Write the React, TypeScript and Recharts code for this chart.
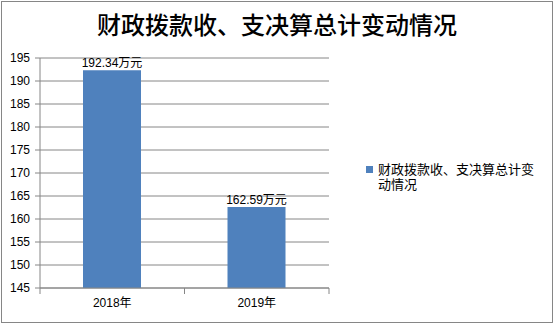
import React from 'react';
import { BarChart, Bar, XAxis, YAxis, CartesianGrid, Legend, LabelList } from 'recharts';

const categories = ['2018年', '2019年'];
const values = [192.34, 162.59];
const seriesName = '财政拨款收、支决算总计变动情况';
const yTicks = [145, 150, 155, 160, 165, 170, 175, 180, 185, 190, 195];

const data = categories.map((c, i) => ({ name: c, value: values[i] }));

const FONT = '"Liberation Sans", "Noto Sans CJK SC", sans-serif';
const GRAY = '#868686';
const BLUE = '#4F81BD';
const TICK_SIZE = 6;
const TICK_MARGIN = 4;

const LegendContent = (props: any) => {
  const item = (props.payload || [])[0];
  if (!item) return null;
  const v: string = String(item.value);
  return (
    <div style={{ display: 'flex', alignItems: 'flex-start', fontFamily: FONT, fontSize: 13, color: '#000', lineHeight: '15px' }}>
      <div style={{ width: 7, height: 7, background: item.color, marginTop: 4, marginRight: 5, flex: 'none' }} />
      <div>
        <div>{v.slice(0, 12)}</div>
        <div>{v.slice(12)}</div>
      </div>
    </div>
  );
};

const XTick = (props: any) => {
  const { x, y, payload } = props;
  const off = payload.offset || 0;
  const axisY = y - TICK_SIZE - TICK_MARGIN;
  const isLast = payload.value === categories[categories.length - 1];
  return (
    <g>
      <line x1={x - off} x2={x - off} y1={axisY} y2={axisY + TICK_SIZE} stroke={GRAY} />
      {isLast && <line x1={x + off} x2={x + off} y1={axisY} y2={axisY + TICK_SIZE} stroke={GRAY} />}
      <text x={x} y={y} dy="0.71em" textAnchor="middle" fill="#000" fontSize={12} fontFamily={FONT}>{payload.value}</text>
    </g>
  );
};

export default function App() {
  return (
    <div style={{ position: 'absolute', left: 0, top: 0, width: 554, height: 324, background: '#fff' }}>
      <div style={{ position: 'absolute', left: 1, top: 1, width: 552, height: 322, border: `1px solid ${GRAY}`, boxSizing: 'border-box' }} />
      <div style={{ position: 'absolute', left: 0, top: 9, width: 554, textAlign: 'center', fontFamily: '"Noto Sans CJK SC", sans-serif', fontSize: 24, fontWeight: 500, color: '#000', lineHeight: '30px' }}>
        {seriesName}
      </div>
      <div style={{ position: 'absolute', left: 0, top: 0 }}>
        <BarChart width={554} height={324} data={data} margin={{ top: 58, right: 225, left: 0, bottom: 0 }}>
          <CartesianGrid horizontal vertical={false} stroke={GRAY} strokeWidth={1} />
          <XAxis dataKey="name" tickLine={false} axisLine={{ stroke: GRAY }} tickSize={TICK_SIZE} tickMargin={TICK_MARGIN} height={36} tick={<XTick />} interval={0} />
          <YAxis domain={[145, 195]} ticks={yTicks} width={40} tickSize={5} tickMargin={5} axisLine={{ stroke: GRAY }} tickLine={{ stroke: GRAY }} tick={{ fill: '#000', fontSize: 12, fontFamily: FONT }} interval={0} />
          <Legend layout="horizontal" align="center" verticalAlign="middle" wrapperStyle={{ left: 366, top: 162, width: 180 }} content={<LegendContent />} />
          <Bar dataKey="value" name={seriesName} fill={BLUE} barSize={58} isAnimationActive={false}>
            <LabelList dataKey="value" position="top" offset={3} formatter={(v: any) => `${v}万元`} style={{ fill: '#000', fontSize: 12, fontFamily: FONT }} />
          </Bar>
        </BarChart>
      </div>
    </div>
  );
}
